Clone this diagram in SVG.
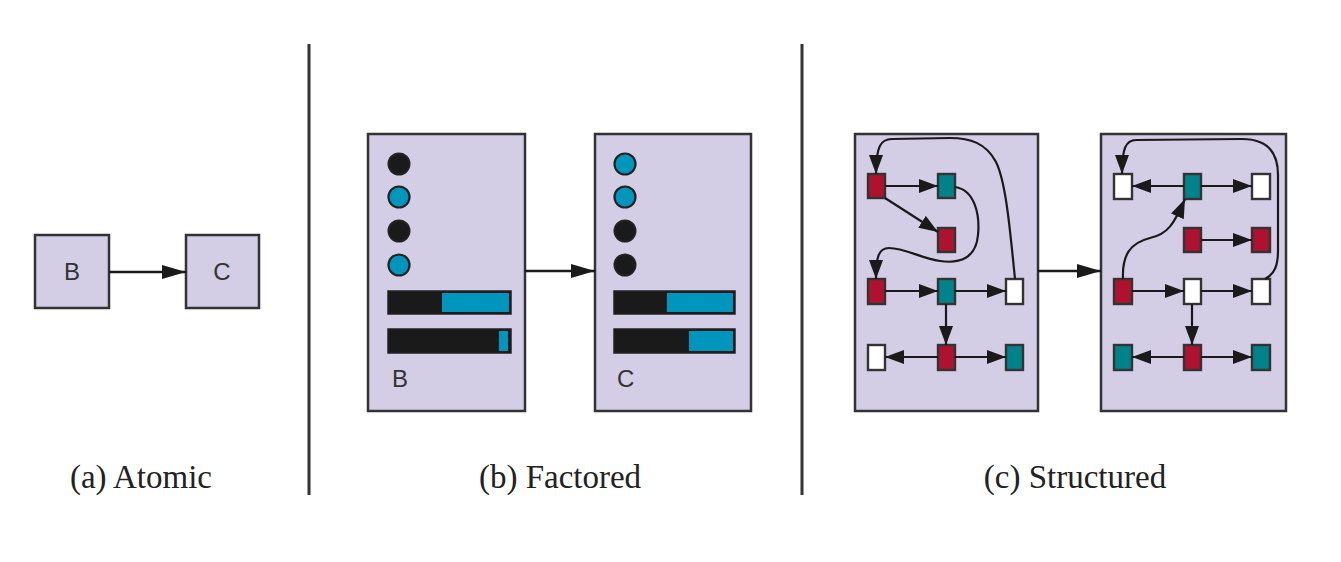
<svg xmlns="http://www.w3.org/2000/svg" width="1341" height="562" viewBox="0 0 1341 562">
<style>
.box{fill:#d4cde6;stroke:#333;stroke-width:2.5}
.lbl{font-family:"Liberation Sans",Arial,sans-serif;font-size:24px;fill:#333}
.cap{font-family:"Liberation Serif","Times New Roman",serif;font-size:33px;fill:#222;text-anchor:middle}
.div{stroke:#333;stroke-width:3}
.e{fill:none;stroke:#1a1a1a;stroke-width:2.2}
.big{fill:none;stroke:#1a1a1a;stroke-width:2.5}
.n{stroke:#333;stroke-width:2.4}
.red{fill:#ae1230}
.teal{fill:#00828a}
.wht{fill:#ffffff}
.dk{fill:#1a1a1a;stroke:#222;stroke-width:2}
.cy{fill:#0095bd;stroke:#222;stroke-width:2.2}
.bar{fill:#1a1a1a;stroke:#222;stroke-width:1.5}
.bc{fill:#0095bd}
</style>
<defs>
<marker id="ah" markerUnits="userSpaceOnUse" markerWidth="19" markerHeight="14" refX="19" refY="7" orient="auto">
<path d="M0,0 L19,7 L0,14 z" fill="#1a1a1a"/>
</marker>
<marker id="ahb" markerUnits="userSpaceOnUse" markerWidth="24" markerHeight="14" refX="24" refY="7" orient="auto">
<path d="M0,0 L24,7 L0,14 z" fill="#1a1a1a"/>
</marker>
</defs>
<rect width="1341" height="562" fill="#ffffff"/>

<g id="dividers">
<line class="div" x1="309" y1="44" x2="309" y2="495"/>
<line class="div" x1="802" y1="44" x2="802" y2="495"/>
</g>

<g id="captions">
<text class="cap" x="141" y="488">(a) Atomic</text>
<text class="cap" x="560" y="488">(b) Factored</text>
<text class="cap" x="1075" y="488">(c) Structured</text>
</g>

<!-- (a) Atomic -->
<g id="atomic-B">
<rect class="box" x="35" y="235" width="74" height="73"/>
<text class="lbl" x="72" y="280" text-anchor="middle">B</text>
</g>
<g id="atomic-C">
<rect class="box" x="186" y="235" width="73" height="73"/>
<text class="lbl" x="222" y="280" text-anchor="middle">C</text>
</g>

<!-- (b) Factored -->
<g id="factored-B">
<rect class="box" x="368" y="134" width="157" height="277"/>
<circle class="dk" cx="399" cy="164" r="10.5"/>
<circle class="cy" cx="399" cy="197" r="10.5"/>
<circle class="dk" cx="399" cy="231" r="10.5"/>
<circle class="cy" cx="399" cy="265" r="10.5"/>
<rect class="bar" x="388" y="291" width="123" height="23"/>
<rect class="bc" x="442" y="293" width="67" height="19"/>
<rect class="bar" x="388" y="329" width="123" height="24"/>
<rect class="bc" x="499" y="331" width="9" height="20"/>
<text class="lbl" x="392" y="387" font-size="23">B</text>
</g>
<g id="factored-C">
<rect class="box" x="595" y="134" width="156" height="277"/>
<circle class="cy" cx="625" cy="164" r="10.5"/>
<circle class="cy" cx="625" cy="197" r="10.5"/>
<circle class="dk" cx="625" cy="231" r="10.5"/>
<circle class="dk" cx="625" cy="265" r="10.5"/>
<rect class="bar" x="614" y="291" width="121" height="23"/>
<rect class="bc" x="667" y="293" width="66" height="19"/>
<rect class="bar" x="614" y="329" width="121" height="24"/>
<rect class="bc" x="689" y="331" width="44" height="20"/>
<text class="lbl" x="617" y="387" font-size="23">C</text>
</g>

<!-- (c) Structured -->
<g id="structured-B">
<rect class="box" x="855" y="134" width="183" height="277"/>
<rect class="n red" x="868" y="174" width="17" height="24"/>
<rect class="n teal" x="938" y="174" width="17" height="24"/>
<rect class="n red" x="938" y="228" width="17" height="24"/>
<rect class="n red" x="868" y="279" width="17" height="25"/>
<rect class="n teal" x="938" y="279" width="17" height="25"/>
<rect class="n wht" x="1006" y="279" width="17" height="25"/>
<rect class="n wht" x="868" y="345" width="17" height="25"/>
<rect class="n red" x="938" y="345" width="17" height="25"/>
<rect class="n teal" x="1006" y="345" width="17" height="25"/>
</g>
<g id="structured-C">
<rect class="box" x="1101" y="134" width="185" height="277"/>
<rect class="n wht" x="1114" y="174" width="18" height="25"/>
<rect class="n teal" x="1184" y="174" width="17" height="25"/>
<rect class="n wht" x="1252" y="174" width="18" height="25"/>
<rect class="n red" x="1184" y="228" width="17" height="24"/>
<rect class="n red" x="1252" y="228" width="18" height="24"/>
<rect class="n red" x="1114" y="279" width="18" height="25"/>
<rect class="n wht" x="1184" y="279" width="17" height="25"/>
<rect class="n wht" x="1252" y="279" width="18" height="25"/>
<rect class="n teal" x="1114" y="345" width="18" height="25"/>
<rect class="n red" x="1184" y="345" width="17" height="25"/>
<rect class="n teal" x="1252" y="345" width="18" height="25"/>
</g>

<g id="connectors">
<line class="big" x1="109" y1="272" x2="186" y2="272" marker-end="url(#ahb)"/>
<line class="big" x1="525" y1="271" x2="595" y2="271" marker-end="url(#ahb)"/>
<line class="big" x1="1038" y1="271" x2="1101" y2="271" marker-end="url(#ahb)"/>

<!-- left structured -->
<line class="e" x1="885" y1="186" x2="938" y2="186" marker-end="url(#ah)"/>
<line class="e" x1="885" y1="198" x2="938" y2="232" marker-end="url(#ah)"/>
<line class="e" x1="885" y1="291" x2="938" y2="291" marker-end="url(#ah)"/>
<line class="e" x1="955" y1="291" x2="1006" y2="291" marker-end="url(#ah)"/>
<line class="e" x1="946" y1="304" x2="946" y2="345" marker-end="url(#ah)"/>
<line class="e" x1="938" y1="357" x2="885" y2="357" marker-end="url(#ah)"/>
<line class="e" x1="955" y1="357" x2="1006" y2="357" marker-end="url(#ah)"/>
<path class="e" d="M1015,279 C1010,230 1006,182 996,162 C986,143 970,138 950,138 L892,139 C881,139 876,146 876,174" marker-end="url(#ah)"/>
<path class="e" d="M955,187 C975,190 980,215 978,235 C976,258 960,264 940,261 C920,258 905,248 889,248 C879,248 876,256 876,279" marker-end="url(#ah)"/>

<!-- right structured -->
<line class="e" x1="1184" y1="186" x2="1132" y2="186" marker-end="url(#ah)"/>
<line class="e" x1="1201" y1="186" x2="1252" y2="186" marker-end="url(#ah)"/>
<line class="e" x1="1201" y1="240" x2="1252" y2="240" marker-end="url(#ah)"/>
<line class="e" x1="1132" y1="291" x2="1184" y2="291" marker-end="url(#ah)"/>
<line class="e" x1="1201" y1="291" x2="1252" y2="291" marker-end="url(#ah)"/>
<line class="e" x1="1192" y1="304" x2="1192" y2="345" marker-end="url(#ah)"/>
<line class="e" x1="1184" y1="357" x2="1132" y2="357" marker-end="url(#ah)"/>
<line class="e" x1="1201" y1="357" x2="1252" y2="357" marker-end="url(#ah)"/>
<path class="e" d="M1123,279 C1122,255 1130,243 1150,238 C1168,234 1174,224 1185,199" marker-end="url(#ah)"/>
<path class="e" d="M1265,279 C1275,274 1278,265 1278,250 L1278,175 C1278,150 1265,139 1242,139 L1136,140 C1126,140 1122,148 1122,174" marker-end="url(#ah)"/>
</g>
</svg>
